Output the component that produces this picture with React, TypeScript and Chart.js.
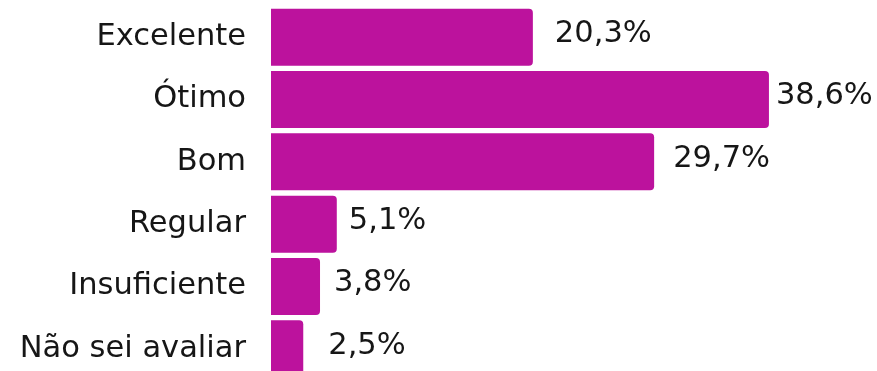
import React, { useEffect, useRef } from "react";
import { Chart, registerables } from "chart.js";

Chart.register(...registerables);

const categories = ["Excelente", "Ótimo", "Bom", "Regular", "Insuficiente", "Não sei avaliar"];
const values = [20.3, 38.6, 29.7, 5.1, 3.8, 2.5];
const valueLabels = ["20,3%", "38,6%", "29,7%", "5,1%", "3,8%", "2,5%"];

const BAR_COLOR = "#BC129D";
const FONT = "'DejaVu Sans', sans-serif";
const FONT_WEIGHT = "normal";
const FONT_SIZE = 30.5;
const TEXT_COLOR = "#161616";
const labelGaps = [22, 7, 19, 12, 14, 25];

const valueLabelPlugin = {
  id: "valueLabels",
  afterDatasetsDraw(chart: any) {
    const ctx = chart.ctx;
    const meta = chart.getDatasetMeta(0);
    ctx.save();
    ctx.font = `${FONT_WEIGHT} ${FONT_SIZE}px ${FONT}`;
    ctx.fillStyle = TEXT_COLOR;
    ctx.textAlign = "left";
    ctx.textBaseline = "middle";
    meta.data.forEach((bar: any, i: number) => {
      ctx.fillText(valueLabels[i], bar.x + labelGaps[i], bar.y - 3);
    });
    ctx.restore();
  },
};

export default function App() {
  const ref = useRef<HTMLCanvasElement | null>(null);
  useEffect(() => {
    if (!ref.current) return;
    const chart = new Chart(ref.current, {
      type: "bar",
      data: {
        labels: categories,
        datasets: [
          {
            data: values,
            backgroundColor: BAR_COLOR,
            borderRadius: 4,
            borderSkipped: "start",
            barPercentage: 0.915,
            categoryPercentage: 1,
          },
        ],
      },
      options: {
        indexAxis: "y",
        animation: false,
        responsive: false,
        maintainAspectRatio: false,
        devicePixelRatio: 1,
        layout: { padding: { top: 6, bottom: 6, left: 0, right: 25.5 } },
        plugins: { legend: { display: false }, tooltip: { enabled: false } },
        scales: {
          x: { display: false, min: 0, max: 45 },
          y: {
            grid: { display: false, drawTicks: false },
            border: { display: false },
            ticks: {
              color: TEXT_COLOR,
              padding: 25,
              font: { family: FONT, size: FONT_SIZE, weight: FONT_WEIGHT },
            },
            afterFit(scale: any) {
              scale.width = 271;
              scale.paddingTop = 0;
              scale.paddingBottom = 0;
            },
          },
        },
      },
      plugins: [valueLabelPlugin],
    });
    return () => chart.destroy();
  }, []);
  return (
    <div style={{ position: "fixed", left: 0, top: 0, width: 877, height: 386, background: "#fff" }}>
      <canvas ref={ref} width={877} height={386} style={{ width: 877, height: 386, display: "block" }} />
    </div>
  );
}
